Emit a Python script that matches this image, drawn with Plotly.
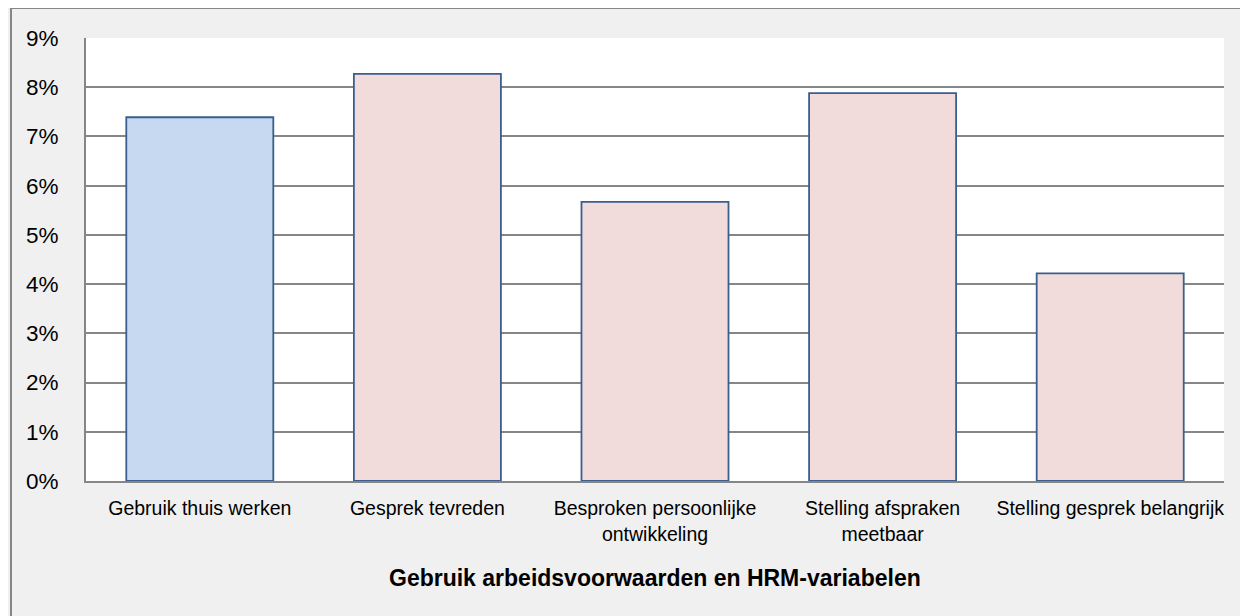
import plotly.graph_objects as go

categories = ["Gebruik thuis werken", "Gesprek tevreden", "Besproken persoonlijke<br>ontwikkeling",
              "Stelling afspraken<br>meetbaar", "Stelling gesprek belangrijk"]
values = [0.0739, 0.0827, 0.0567, 0.0788, 0.0422]
bar_colors = ["#c6d9f1", "#f2dcdb", "#f2dcdb", "#f2dcdb", "#f2dcdb"]
y_ticks = [0, 0.01, 0.02, 0.03, 0.04, 0.05, 0.06, 0.07, 0.08, 0.09]
y_ticktext = ["0%", "1%", "2%", "3%", "4%", "5%", "6%", "7%", "8%", "9%"]
x_title = "Gebruik arbeidsvoorwaarden en HRM-variabelen"

FONT = "Liberation Sans"

fig = go.Figure(go.Bar(
    x=categories, y=values,
    marker=dict(color=bar_colors, line=dict(color="#3a5f8f", width=1.8)),
    width=0.646,
))

fig.update_layout(
    width=1248, height=616,
    margin=dict(l=78, r=32, t=30, b=143),
    paper_bgcolor="#f0f0f0", plot_bgcolor="#ffffff",
    font=dict(family=FONT, color="#000000"),
    showlegend=False,
    xaxis=dict(
        tickfont=dict(size=19.5, family=FONT),
        showline=True, linecolor="#868686", linewidth=2,
        showgrid=False, ticks="", ticklabelstandoff=9,
    ),
    yaxis=dict(
        range=[0, 0.09], tickvals=y_ticks, ticktext=y_ticktext,
        tickfont=dict(size=22.5, family=FONT),
        showline=True, linecolor="#868686", linewidth=2,
        showgrid=True, gridcolor="#868686", gridwidth=1.5,
        ticks="", ticklabelstandoff=21, zeroline=False,
    ),
    annotations=[dict(
        text="<b>" + x_title + "</b>", xref="paper", yref="paper",
        x=0.5, y=-0.219, xanchor="center", yanchor="middle",
        showarrow=False, font=dict(size=23, family=FONT),
    )],
    shapes=[dict(
        type="rect", xref="paper", yref="paper",
        x0=-0.0659, y0=-0.6, x1=1.2, y1=1.0677,
        line=dict(color="#868686", width=2), fillcolor="rgba(0,0,0,0)", layer="below",
    )],
)

fig.write_html("out.html")
